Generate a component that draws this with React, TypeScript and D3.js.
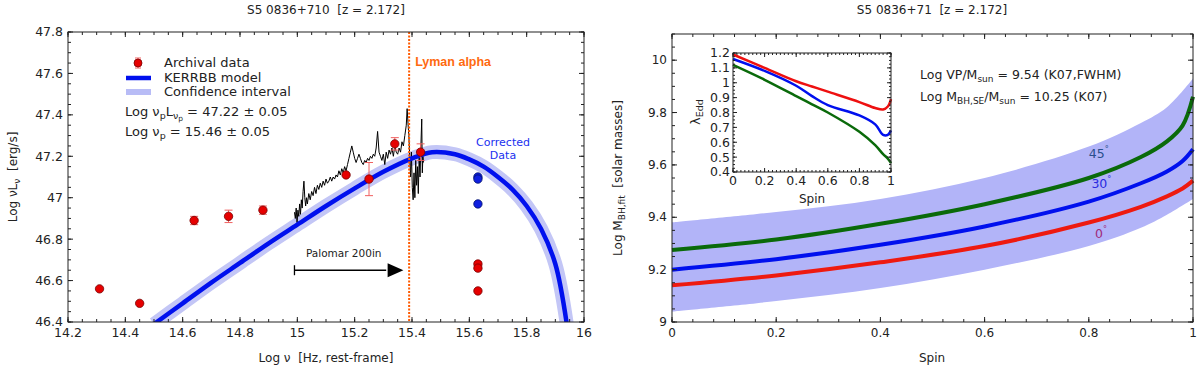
import React from "react";
import * as d3 from "d3";

// ---- left panel data (log nu vs log nuL_nu) ----
const archX = [14.31, 14.45, 14.64, 14.76, 14.88, 15.17, 15.25, 15.34, 15.43, 15.63, 15.63, 15.63];
const archY = [46.56, 46.49, 46.89, 46.91, 46.94, 47.11, 47.09, 47.26, 47.22, 46.68, 46.66, 46.55];
const archErr = [0, 0, 0.02, 0.03, 0.02, 0, 0.08, 0.03, 0.04, 0.01, 0, 0];
const corrX = [15.63, 15.63, 15.63];
const corrY = [47.10, 47.09, 46.97];

const modelX = [14.5, 14.6, 14.7, 14.8, 14.9, 15.0, 15.1, 15.2, 15.3, 15.4, 15.47, 15.55, 15.6, 15.65, 15.7, 15.75, 15.8, 15.85, 15.9, 15.94];
const modelY = [46.39, 46.49, 46.59, 46.685, 46.78, 46.87, 46.96, 47.045, 47.125, 47.19, 47.22, 47.21, 47.185, 47.15, 47.1, 47.04, 46.96, 46.85, 46.68, 46.39];

const specX = [14.99, 14.993, 14.996, 14.999, 15.002, 15.005, 15.008, 15.011, 15.014, 15.017, 15.02, 15.023, 15.026, 15.029, 15.032, 15.035, 15.04, 15.045, 15.05, 15.055, 15.06, 15.065, 15.07, 15.075, 15.08, 15.085, 15.09, 15.095, 15.1, 15.105, 15.11, 15.115, 15.12, 15.125, 15.13, 15.135, 15.14, 15.145, 15.15, 15.155, 15.16, 15.165, 15.17, 15.175, 15.18, 15.185, 15.19, 15.195, 15.2, 15.205, 15.21, 15.215, 15.22, 15.225, 15.23, 15.235, 15.24, 15.245, 15.25, 15.255, 15.26, 15.265, 15.27, 15.275, 15.28, 15.285, 15.29, 15.295, 15.3, 15.305, 15.31, 15.315, 15.32, 15.325, 15.33, 15.335, 15.34, 15.345, 15.35, 15.355, 15.36, 15.365, 15.37, 15.375, 15.38, 15.383, 15.386, 15.389, 15.392, 15.395, 15.398, 15.401, 15.404, 15.407, 15.41, 15.413, 15.416, 15.419, 15.422, 15.425, 15.428, 15.431, 15.434, 15.436, 15.438, 15.44];
const specY = [46.93, 46.9, 46.95, 46.88, 46.94, 46.91, 46.97, 46.92, 46.99, 46.95, 47.03, 47.08, 47.0, 46.96, 47.0, 46.97, 47.02, 46.99, 47.03, 47.01, 47.05, 47.02, 47.06, 47.04, 47.07, 47.05, 47.08, 47.06, 47.09, 47.07, 47.08, 47.1, 47.08, 47.1, 47.09, 47.11, 47.1, 47.13, 47.11, 47.14, 47.12, 47.15, 47.13, 47.16, 47.19, 47.22, 47.25, 47.22, 47.19, 47.17, 47.19, 47.21, 47.19, 47.17, 47.16, 47.18, 47.17, 47.19, 47.18, 47.2, 47.19, 47.21, 47.2, 47.24, 47.32, 47.22, 47.2, 47.18, 47.21, 47.16, 47.22, 47.19, 47.23, 47.21, 47.24, 47.2, 47.25, 47.22, 47.21, 47.24, 47.22, 47.27, 47.25, 47.3, 47.35, 47.43, 47.36, 47.3, 47.2, 47.1, 47.22, 47.05, 46.99, 47.12, 47.0, 47.18, 47.06, 47.15, 47.02, 47.2, 47.1, 47.25, 47.38, 47.12, 47.2, 47.17];

const lymanAlpha = 15.39;
const leftXTicks = [14.2, 14.4, 14.6, 14.8, 15, 15.2, 15.4, 15.6, 15.8, 16];
const leftYTicks = [46.4, 46.6, 46.8, 47, 47.2, 47.4, 47.6, 47.8];

// ---- right panel data (spin vs log M_BH,fit) ----
const spinBand = [0, 0.2, 0.4, 0.6, 0.8, 0.9, 0.95, 1];
const bandLow = [9.04, 9.08, 9.13, 9.2, 9.29, 9.36, 9.41, 9.47];
const bandHigh = [9.38, 9.42, 9.47, 9.55, 9.67, 9.76, 9.82, 9.93];

const spinCurve = [0, 0.2, 0.4, 0.6, 0.8, 0.9, 0.95, 0.98, 1];
const mass0 = [9.14, 9.178, 9.228, 9.29, 9.38, 9.44, 9.48, 9.51, 9.54];
const mass30 = [9.2, 9.24, 9.295, 9.365, 9.46, 9.53, 9.575, 9.615, 9.66];
const mass45 = [9.275, 9.315, 9.375, 9.45, 9.55, 9.63, 9.69, 9.75, 9.86];

const rightXTicks = [0, 0.2, 0.4, 0.6, 0.8, 1];
const rightYTicks = [9, 9.2, 9.4, 9.6, 9.8, 10];

// inset: Eddington ratio vs spin
const insetSpin = [0, 0.2, 0.4, 0.5, 0.6, 0.8, 0.9, 0.95, 0.98, 1];
const edd0 = [1.19, 1.1, 1.01, 0.975, 0.94, 0.87, 0.83, 0.82, 0.84, 0.89];
const edd30 = [1.16, 1.08, 0.98, 0.91, 0.85, 0.78, 0.72, 0.65, 0.65, 0.68];
const edd45 = [1.12, 1.02, 0.91, 0.855, 0.8, 0.67, 0.58, 0.52, 0.49, 0.46];
const insetXTicks = [0, 0.2, 0.4, 0.6, 0.8, 1];
const insetYTicks = [0.4, 0.5, 0.6, 0.7, 0.8, 0.9, 1, 1.1, 1.2];

const FONT = "DejaVu Sans, sans-serif";
const fmt = (v: number) => String(+v.toFixed(2));
const smooth = d3.curveCatmullRom.alpha(0.5);

type Scale = d3.ScaleLinear<number, number>;

function Frame(props: {
  x: Scale; y: Scale; xTicks: number[]; yTicks: number[]; xMinor: number; yMinor: number;
  fs: number; major?: number; minor?: number; labelGap?: number;
}) {
  const { x, y, xTicks, yTicks, xMinor, yMinor, fs } = props;
  const M = props.major ?? 5, m = props.minor ?? 3, gap = props.labelGap ?? 5;
  const [x0, x1] = x.range();
  const [y0, y1] = y.range(); // y0 bottom, y1 top
  const xd = x.domain(), yd = y.domain();
  const xm = d3.range(Math.round((xd[1] - xd[0]) / xMinor) + 1).map((i) => xd[0] + i * xMinor);
  const ym = d3.range(Math.round((yd[1] - yd[0]) / yMinor) + 1).map((i) => yd[0] + i * yMinor);
  return (
    <g stroke="#222" strokeWidth={1}>
      <rect x={x0} y={y1} width={x1 - x0} height={y0 - y1} fill="none" />
      {xm.map((v, i) => (
        <g key={"xm" + i}>
          <line x1={x(v)} x2={x(v)} y1={y0} y2={y0 - m} />
          <line x1={x(v)} x2={x(v)} y1={y1} y2={y1 + m} />
        </g>
      ))}
      {ym.map((v, i) => (
        <g key={"ym" + i}>
          <line x1={x0} x2={x0 + m} y1={y(v)} y2={y(v)} />
          <line x1={x1} x2={x1 - m} y1={y(v)} y2={y(v)} />
        </g>
      ))}
      {xTicks.map((v) => (
        <g key={"xt" + v}>
          <line x1={x(v)} x2={x(v)} y1={y0} y2={y0 - M} />
          <line x1={x(v)} x2={x(v)} y1={y1} y2={y1 + M} />
          <text x={x(v)} y={y0 + gap + fs * 0.8} textAnchor="middle" fontSize={fs} stroke="none" fill="#222" fontFamily={FONT}>
            {fmt(v)}
          </text>
        </g>
      ))}
      {yTicks.map((v) => (
        <g key={"yt" + v}>
          <line x1={x0} x2={x0 + M} y1={y(v)} y2={y(v)} />
          <line x1={x1} x2={x1 - M} y1={y(v)} y2={y(v)} />
          <text x={x0 - gap} y={y(v)} dy="0.35em" textAnchor="end" fontSize={fs} stroke="none" fill="#222" fontFamily={FONT}>
            {fmt(v)}
          </text>
        </g>
      ))}
    </g>
  );
}

const pre = { whiteSpace: "pre" as const };

function LeftPanel() {
  const x = d3.scaleLinear().domain([14.2, 16]).range([68, 584]);
  const y = d3.scaleLinear().domain([46.4, 47.8]).range([322, 32]);
  const line = d3.line<number>().x((_, i) => x(modelX[i])).y((d) => y(d)).curve(smooth);
  const spec = d3.line<number>().x((_, i) => x(specX[i])).y((d) => y(d));
  const red = "#e60000";
  const ay = y(46.65);
  return (
    <g fontFamily={FONT}>
      <text x={326} y={14} textAnchor="middle" fontSize={12} fill="#222" style={pre}>S5 0836+710  [z = 2.172]</text>
      <defs>
        <clipPath id="clipL">
          <rect x={68} y={32} width={516} height={290} />
        </clipPath>
      </defs>
      <g clipPath="url(#clipL)">
        <path d={line(modelY) ?? ""} fill="none" stroke="#c3c6f6" strokeWidth={14} />
        <path d={spec(specY) ?? ""} fill="none" stroke="#000" strokeWidth={1} />
        <path d={line(modelY) ?? ""} fill="none" stroke="#0010ee" strokeWidth={4.5} />
      </g>
      <line x1={x(lymanAlpha)} x2={x(lymanAlpha)} y1={32} y2={322} stroke="#ff5a00" strokeWidth={2} strokeDasharray="2,1.5" />
      <text x={x(lymanAlpha) + 6} y={66} fontSize={12.5} fontWeight="bold" fill="#ff6a10" fontFamily="Liberation Sans Narrow, Liberation Sans, sans-serif">Lyman alpha</text>

      {archX.map((v, i) => (
        <g key={"a" + i}>
          {archErr[i] > 0 && (
            <g stroke="#f06060" strokeWidth={1}>
              <line x1={x(v)} x2={x(v)} y1={y(archY[i] - archErr[i])} y2={y(archY[i] + archErr[i])} />
              <line x1={x(v) - 4} x2={x(v) + 4} y1={y(archY[i] - archErr[i])} y2={y(archY[i] - archErr[i])} />
              <line x1={x(v) - 4} x2={x(v) + 4} y1={y(archY[i] + archErr[i])} y2={y(archY[i] + archErr[i])} />
            </g>
          )}
          <circle cx={x(v)} cy={y(archY[i])} r={4.2} fill={red} stroke="#700" strokeWidth={0.8} />
        </g>
      ))}
      {corrX.map((v, i) => (
        <circle key={"c" + i} cx={x(v)} cy={y(corrY[i])} r={4.2} fill="#1020e0" stroke="#00106a" strokeWidth={0.8} />
      ))}
      <text x={503} y={146} textAnchor="middle" fontSize={11} fill="#2030f0">Corrected</text>
      <text x={503} y={159} textAnchor="middle" fontSize={11} fill="#2030f0">Data</text>

      {/* Palomar arrow */}
      <line x1={x(14.99)} x2={x(14.99)} y1={ay - 5} y2={ay + 5} stroke="#000" strokeWidth={1.3} />
      <line x1={x(14.99)} x2={x(15.31)} y1={ay} y2={ay} stroke="#000" strokeWidth={1.6} />
      <path d={`M${x(15.37)},${ay} L${x(15.315)},${ay - 7} L${x(15.315)},${ay + 7} Z`} fill="#000" />
      <text x={x(15.03)} y={y(46.715)} fontSize={10.5} fill="#222">Palomar 200in</text>

      {/* legend */}
      <line x1={138} x2={138} y1={58} y2={68} stroke="#f06060" />
      <line x1={135} x2={141} y1={58} y2={58} stroke="#f06060" />
      <line x1={135} x2={141} y1={68} y2={68} stroke="#f06060" />
      <circle cx={138} cy={63} r={4} fill={red} stroke="#700" strokeWidth={0.8} />
      <text x={164} y={67} fontSize={13} fill="#222">Archival data</text>
      <line x1={126} x2={151} y1={78} y2={78} stroke="#0010ee" strokeWidth={4.5} />
      <text x={164} y={82} fontSize={13} fill="#222">KERRBB model</text>
      <line x1={126} x2={151} y1={92} y2={92} stroke="#b8bcf6" strokeWidth={6} />
      <text x={164} y={96} fontSize={13} fill="#222">Confidence interval</text>
      <text x={125} y={116} fontSize={13} fill="#222">
        Log ν<tspan fontSize={9.5} dy={3}>p</tspan><tspan dy={-3}>L</tspan>
        <tspan fontSize={9.5} dy={3}>ν</tspan><tspan fontSize={7.5} dy={2}>p</tspan>
        <tspan dy={-5}> = 47.22 ± 0.05</tspan>
      </text>
      <text x={125} y={136} fontSize={13} fill="#222">
        Log ν<tspan fontSize={9.5} dy={3}>p</tspan><tspan dy={-3}> = 15.46 ± 0.05</tspan>
      </text>

      <Frame x={x} y={y} xTicks={leftXTicks} yTicks={leftYTicks} xMinor={0.05} yMinor={0.05} fs={12.5} />
      <text x={326} y={362} textAnchor="middle" fontSize={12} fill="#222" style={pre}>Log ν  [Hz, rest-frame]</text>
      <text transform="translate(17,177) rotate(-90)" textAnchor="middle" fontSize={12} fill="#222" style={pre}>
        Log νL<tspan fontSize={9} dy={3}>ν</tspan><tspan dy={-3}>  [erg/s]</tspan>
      </text>
    </g>
  );
}

function Inset() {
  const x = d3.scaleLinear().domain([0, 1]).range([733, 891]);
  const y = d3.scaleLinear().domain([0.4, 1.2]).range([172, 53]);
  const mk = (ys: number[]) =>
    d3.line<number>().x((_, i) => x(insetSpin[i])).y((d) => y(d)).curve(smooth)(ys) ?? "";
  return (
    <g>
      <rect x={733} y={53} width={158} height={119} fill="#fff" />
      <path d={mk(edd45)} fill="none" stroke="#0a6a0a" strokeWidth={2.5} />
      <path d={mk(edd30)} fill="none" stroke="#0010ee" strokeWidth={2.5} />
      <path d={mk(edd0)} fill="none" stroke="#ee1010" strokeWidth={2.5} />
      <Frame x={x} y={y} xTicks={insetXTicks} yTicks={insetYTicks} xMinor={0.025} yMinor={0.025} fs={12.5} major={4} minor={2} labelGap={3} />
      <text x={812} y={203} textAnchor="middle" fontSize={12} fill="#222">Spin</text>
      <text transform="translate(700,112) rotate(-90)" textAnchor="middle" fontSize={13} fill="#222">
        λ<tspan fontSize={9.5} dy={3}>Edd</tspan>
      </text>
    </g>
  );
}

function RightPanel() {
  const x = d3.scaleLinear().domain([0, 1]).range([672, 1193]);
  const y = d3.scaleLinear().domain([9, 10.1]).range([322, 34]);
  const area = d3.area<number>().x((_, i) => x(spinBand[i])).y0((_, i) => y(bandLow[i])).y1((d) => y(d)).curve(smooth);
  const mk = (ys: number[]) =>
    d3.line<number>().x((_, i) => x(spinCurve[i])).y((d) => y(d)).curve(smooth)(ys) ?? "";
  return (
    <g fontFamily={FONT}>
      <text x={932} y={14} textAnchor="middle" fontSize={12} fill="#222" style={pre}>S5 0836+71  [z = 2.172]</text>
      <path d={area(bandHigh) ?? ""} fill="#b2b4f8" />
      <path d={mk(mass45)} fill="none" stroke="#0a6a0a" strokeWidth={4} />
      <path d={mk(mass30)} fill="none" stroke="#0010ee" strokeWidth={4} />
      <path d={mk(mass0)} fill="none" stroke="#ee1a10" strokeWidth={4} />
      <text x={x(0.8)} y={y(9.625)} fontSize={12.5} fill="#2a4f8c">45<tspan fontSize={8} dy={-6}>°</tspan></text>
      <text x={x(0.805)} y={y(9.51)} fontSize={12.5} fill="#2a2ae0">30<tspan fontSize={8} dy={-6}>°</tspan></text>
      <text x={x(0.812)} y={y(9.32)} fontSize={12.5} fill="#a02a78">0<tspan fontSize={8} dy={-6}>°</tspan></text>
      <Frame x={x} y={y} xTicks={rightXTicks} yTicks={rightYTicks} xMinor={0.04} yMinor={0.05} fs={12} />
      <text x={920} y={79} fontSize={12.5} fill="#222">
        Log VP/M<tspan fontSize={9} dy={3}>sun</tspan><tspan dy={-3}> = 9.54 (K07,FWHM)</tspan>
      </text>
      <text x={920} y={101} fontSize={12.5} fill="#222">
        Log M<tspan fontSize={9} dy={3}>BH,SE</tspan><tspan dy={-3}>/M</tspan>
        <tspan fontSize={9} dy={3}>sun</tspan><tspan dy={-3}> = 10.25 (K07)</tspan>
      </text>
      <text x={932} y={362} textAnchor="middle" fontSize={12} fill="#222">Spin</text>
      <text transform="translate(622,178) rotate(-90)" textAnchor="middle" fontSize={12} fill="#222" style={pre}>
        Log M<tspan fontSize={9} dy={3}>BH,fit</tspan><tspan dy={-3}>  [solar masses]</tspan>
      </text>
      <Inset />
    </g>
  );
}

export default function App() {
  return (
    <div style={{ position: "fixed", left: 0, top: 0 }}>
      <svg width={1200} height={369} style={{ display: "block", background: "#fff" }}>
        <LeftPanel />
        <RightPanel />
      </svg>
    </div>
  );
}
